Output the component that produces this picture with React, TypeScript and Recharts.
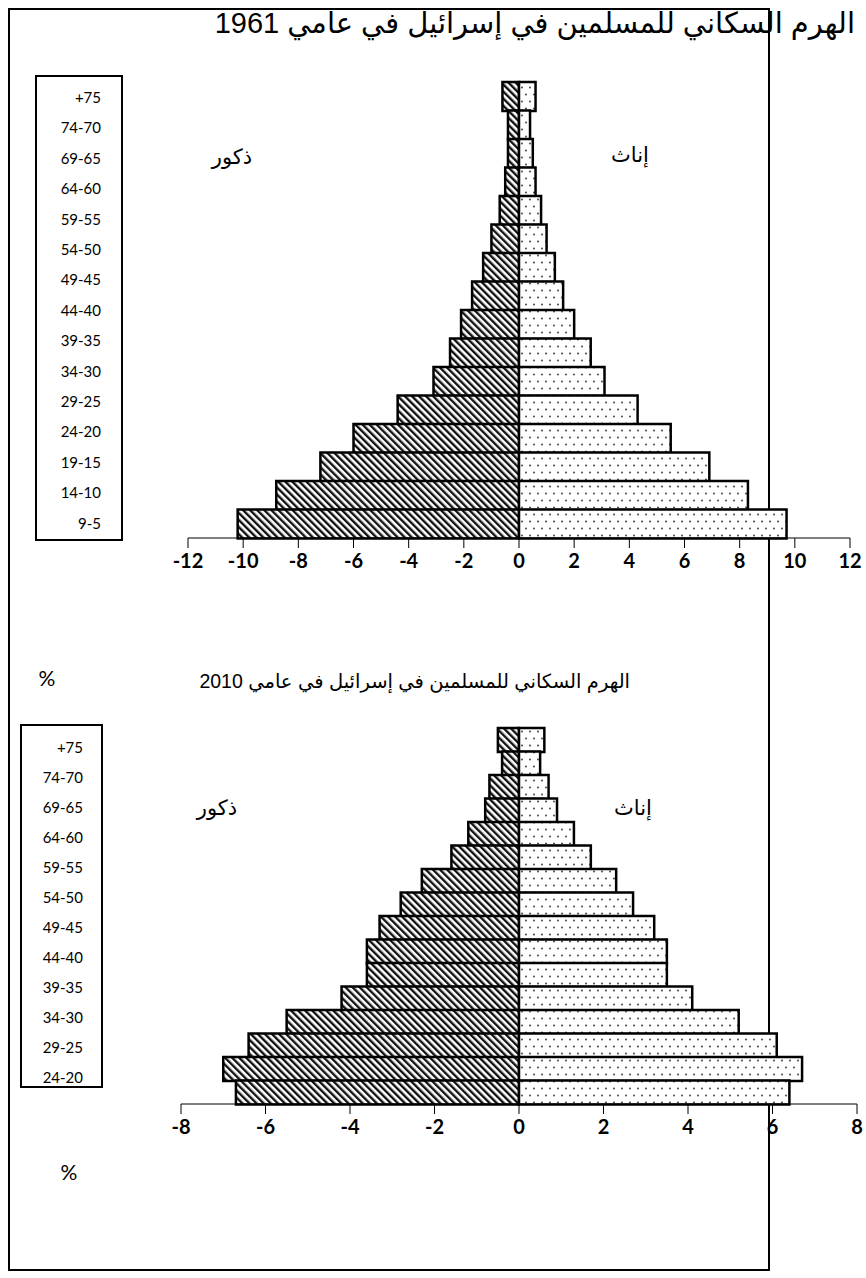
import { Bar, BarChart, XAxis, YAxis } from "recharts";

// age groups, top of the pyramid first
const ageGroups = [
  "+75", "74-70", "69-65", "64-60", "59-55", "54-50", "49-45", "44-40",
  "39-35", "34-30", "29-25", "24-20", "19-15", "14-10", "9-5", "4-0",
];
// the label boxes drawn next to each pyramid (the 2010 one is cut off)
const boxLabels1961 = ageGroups.slice(0, 15);
const boxLabels2010 = ageGroups.slice(0, 12);

const males1961 = [-0.6, -0.4, -0.4, -0.5, -0.7, -1.0, -1.3, -1.7, -2.1, -2.5, -3.1, -4.4, -6.0, -7.2, -8.8, -10.2];
const females1961 = [0.6, 0.4, 0.5, 0.6, 0.8, 1.0, 1.3, 1.6, 2.0, 2.6, 3.1, 4.3, 5.5, 6.9, 8.3, 9.7];
const males2010 = [-0.5, -0.4, -0.7, -0.8, -1.2, -1.6, -2.3, -2.8, -3.3, -3.6, -3.6, -4.2, -5.5, -6.4, -7.0, -6.7];
const females2010 = [0.6, 0.5, 0.7, 0.9, 1.3, 1.7, 2.3, 2.7, 3.2, 3.5, 3.5, 4.1, 5.2, 6.1, 6.7, 6.4];

const ticks1961 = [-12, -10, -8, -6, -4, -2, 0, 2, 4, 6, 8, 10, 12];
const ticks2010 = [-8, -6, -4, -2, 0, 2, 4, 6, 8];

const title1961 = "الهرم السكاني للمسلمين في إسرائيل في عامي 1961";
const title2010 = "الهرم السكاني للمسلمين في إسرائيل في عامي 2010";
const maleLabel = "ذكور";
const femaleLabel = "إناث";

const ARABIC = "'Liberation Sans', 'DejaVu Sans', sans-serif";
const LATIN = "Lato, 'Open Sans', sans-serif";

type PyramidProps = {
  id: string;
  males: number[];
  females: number[];
  ticks: number[];
  top: number;
  width: number;
  height: number;
  margin: { top: number; right: number; bottom: number; left: number };
};

function Pyramid({ id, males, females, ticks, top, width, height, margin }: PyramidProps) {
  const rows = ageGroups.map((age, i) => ({ age, male: males[i], female: females[i] }));
  const lim = ticks[ticks.length - 1];
  return (
    <div style={{ position: "absolute", left: 0, top }}>
      <BarChart
        width={width}
        height={height}
        data={rows}
        layout="vertical"
        stackOffset="sign"
        barCategoryGap={0}
        margin={margin}
      >
        <defs>
          <pattern id={`${id}-m`} width="5" height="5" patternUnits="userSpaceOnUse" patternTransform="rotate(-45)">
            <rect width="5" height="5" fill="#fff" />
            <rect width="2.4" height="5" fill="#111" />
          </pattern>
          <pattern id={`${id}-f`} width="8" height="14" patternUnits="userSpaceOnUse">
            <rect width="8" height="14" fill="#fff" />
            <circle cx="2" cy="3.5" r="0.9" fill="#333" />
            <circle cx="6" cy="10.5" r="0.9" fill="#333" />
          </pattern>
        </defs>
        <XAxis
          type="number"
          domain={[-lim, lim]}
          ticks={ticks}
          interval={0}
          height={40}
          tickSize={10}
          tickMargin={6}
          axisLine={{ stroke: "#000", strokeWidth: 1 }}
          tickLine={{ stroke: "#000", strokeWidth: 1 }}
          tick={{ fill: "#000", fontFamily: LATIN, fontWeight: 700, fontSize: 20 }}
        />
        <YAxis type="category" dataKey="age" hide />
        <Bar dataKey="male" stackId="s" fill={`url(#${id}-m)`} stroke="#000" strokeWidth={2.5} isAnimationActive={false} />
        <Bar dataKey="female" stackId="s" fill={`url(#${id}-f)`} stroke="#000" strokeWidth={2.5} isAnimationActive={false} />
      </BarChart>
    </div>
  );
}

function LabelBox({ labels, left, top, width, height, right, first, step }: {
  labels: string[]; left: number; top: number; width: number; height: number;
  right: number; first: number; step: number;
}) {
  return (
    <div
      style={{
        position: "absolute", left, top, width, height, boxSizing: "border-box",
        border: "2px solid #000", overflow: "hidden", background: "#fff",
      }}
    >
      {labels.map((l, i) => (
        <div
          key={l}
          style={{
            position: "absolute", right, top: first + i * step - top - 2,
            transform: "translateY(-50%)", fontFamily: LATIN, fontSize: 15,
            lineHeight: "18px", whiteSpace: "nowrap",
          }}
        >
          {l}
        </div>
      ))}
    </div>
  );
}

function Txt({ x, y, size, children, font = ARABIC }: { x: number; y: number; size: number; children: string; font?: string }) {
  return (
    <div
      dir="rtl"
      style={{
        position: "absolute", left: x, top: y, transform: "translate(-50%, -50%)",
        fontFamily: font, fontSize: size, whiteSpace: "nowrap", lineHeight: 1.2,
      }}
    >
      {children}
    </div>
  );
}

export default function App() {
  return (
    <div style={{ position: "absolute", left: 0, top: 0, width: 866, height: 1278, background: "#fff", overflow: "hidden" }}>
      <div style={{ position: "absolute", left: 8, top: 8, width: 762, height: 1263, boxSizing: "border-box", border: "2px solid #000" }} />

      <Pyramid id="p61" males={males1961} females={females1961} ticks={ticks1961}
        top={0} width={866} height={600} margin={{ top: 82, right: 16, bottom: 22, left: 188 }} />
      <Pyramid id="p10" males={males2010} females={females2010} ticks={ticks2010}
        top={700} width={866} height={460} margin={{ top: 28, right: 9, bottom: 16, left: 181 }} />

      <LabelBox labels={boxLabels1961} left={35} top={75} width={88} height={466} right={20} first={97} step={30.4} />
      <LabelBox labels={boxLabels2010} left={20} top={724} width={83} height={364} right={18} first={747} step={30} />

      <div dir="rtl" style={{ position: "absolute", right: 11, top: 6, fontFamily: ARABIC, fontSize: 29, whiteSpace: "nowrap" }}>
        {title1961}
      </div>
      <div dir="rtl" style={{ position: "absolute", right: 236, top: 670, fontFamily: ARABIC, fontSize: 19.5, whiteSpace: "nowrap" }}>
        {title2010}
      </div>

      <Txt x={232} y={157} size={21}>{maleLabel}</Txt>
      <Txt x={630} y={155} size={21}>{femaleLabel}</Txt>
      <Txt x={217} y={808} size={21}>{maleLabel}</Txt>
      <Txt x={633} y={808} size={21}>{femaleLabel}</Txt>

      <Txt x={47} y={678} size={21} font={LATIN}>%</Txt>
      <Txt x={69} y={1172} size={21} font={LATIN}>%</Txt>
    </div>
  );
}
